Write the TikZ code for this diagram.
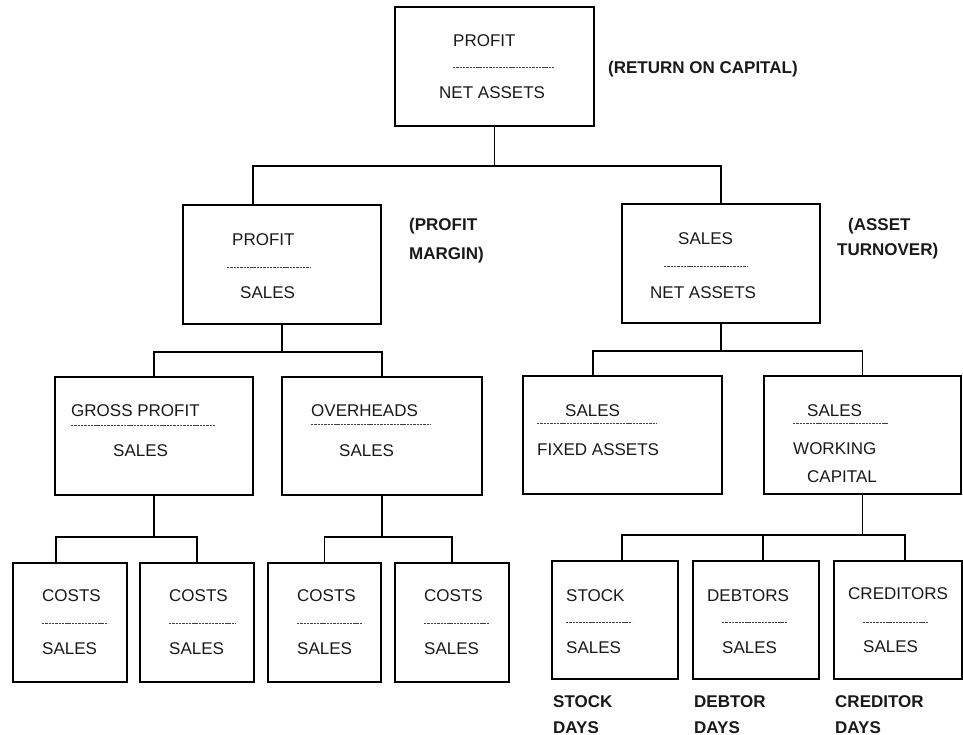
\documentclass[tikz,border=0pt]{standalone}
\usepackage{fontspec}
\setmainfont{Liberation Sans}

\begin{document}
\begin{tikzpicture}[x=1pt, y=-1pt,
        box/.style={rectangle, draw, line width=1.8pt, inner sep=0pt},
        txt/.style={inner sep=0pt, anchor=base west, text=black!90, font=\fontsize{17}{20}\selectfont},
        lbl/.style={txt, font=\fontsize{17}{20}\selectfont\bfseries},
        rule/.style={line width=1pt, black!75, dash pattern=on 2.4pt off 0.9pt},
        link/.style={line width=1.8pt}]
        \useasboundingbox (0,0) rectangle (963,735);

        % Boxes
        \node at (494.5,66.5) [box, minimum width=199pt, minimum height=119pt] (roc) {};
        \node at (282,264.5) [box, minimum width=198pt, minimum height=119pt] (pm) {};
        \node at (721,263.5) [box, minimum width=198pt, minimum height=119pt] (at) {};
        \node at (154,436) [box, minimum width=198pt, minimum height=118pt] (gp) {};
        \node at (382,436) [box, minimum width=200pt, minimum height=118pt] (oh) {};
        \node at (622.5,435) [box, minimum width=199pt, minimum height=118pt] (fa) {};
        \node at (862.5,435) [box, minimum width=197pt, minimum height=118pt] (wc) {};
        \node at (70,622.5) [box, minimum width=114pt, minimum height=119pt] (c1) {};
        \node at (197,622.5) [box, minimum width=114pt, minimum height=119pt] (c2) {};
        \node at (324.5,622.5) [box, minimum width=113pt, minimum height=119pt] (c3) {};
        \node at (452,622.5) [box, minimum width=114pt, minimum height=119pt] (c4) {};
        \node at (615,620) [box, minimum width=126pt, minimum height=118pt] (stock) {};
        \node at (756,620) [box, minimum width=126pt, minimum height=118pt] (debt) {};
        \node at (898,620) [box, minimum width=128pt, minimum height=118pt] (cred) {};

        % Ratios
        \node at (453,47) [txt] (rocn) {PROFIT};
        \draw[rule] (453,68) -- (554,68);
        \node at (439,99) [txt] (rocd) {NET ASSETS};

        \node at (232,246) [txt] (pmn) {PROFIT};
        \draw[rule] (227,267) -- (310,267);
        \node at (240,298) [txt] (pmd) {SALES};

        \node at (678,244) [txt] (atn) {SALES};
        \draw[rule] (664,266) -- (748,266);
        \node at (650,298) [txt] (atd) {NET ASSETS};

        \node at (71,416) [txt] (gpn) {GROSS PROFIT};
        \draw[rule] (71,425) -- (215,425);
        \node at (113,456) [txt] (gpd) {SALES};

        \node at (311,416) [txt] (ohn) {OVERHEADS};
        \draw[rule] (311,424) -- (431,424);
        \node at (339,456) [txt] (ohd) {SALES};

        \node at (565,416) [txt] (fan) {SALES};
        \draw[rule] (537,423) -- (657,423);
        \node at (537,455) [txt] (fad) {FIXED ASSETS};

        \node at (807,416) [txt] (wcn) {SALES};
        \draw[rule] (793,423) -- (888,423);
        \node at (793,454) [txt] (wcd) {WORKING};
        \node at (807,482) [txt] (wcd2) {CAPITAL};

        \node at (42,601) [txt] (c1n) {COSTS};
        \draw[rule] (42,623) -- (108,623);
        \node at (42,654) [txt] (c1d) {SALES};

        \node at (169,601) [txt] (c2n) {COSTS};
        \draw[rule] (169,623) -- (236,623);
        \node at (169,654) [txt] (c2d) {SALES};

        \node at (297,601) [txt] (c3n) {COSTS};
        \draw[rule] (297,623) -- (362,623);
        \node at (297,654) [txt] (c3d) {SALES};

        \node at (424,601) [txt] (c4n) {COSTS};
        \draw[rule] (424,623) -- (490,623);
        \node at (424,654) [txt] (c4d) {SALES};

        \node at (566,601) [txt] (stockn) {STOCK};
        \draw[rule] (566,622) -- (632,622);
        \node at (566,653) [txt] (stockd) {SALES};

        \node at (707,601) [txt] (debtn) {DEBTORS};
        \draw[rule] (722,622) -- (787,622);
        \node at (722,653) [txt] (debtd) {SALES};

        \node at (848,599) [txt] (credn) {CREDITORS};
        \draw[rule] (863,622) -- (928,622);
        \node at (863,652) [txt] (credd) {SALES};

        % Labels
        \node at (608,74) [lbl] (roclbl) {(RETURN ON CAPITAL)};
        \node at (409,231) [lbl] (pmlbl) {(PROFIT};
        \node at (409,259) [lbl] (pmlbl2) {MARGIN)};
        \node at (848,231) [lbl] (atlbl) {(ASSET};
        \node at (837,255) [lbl] (atlbl2) {TURNOVER)};
        \node at (553,707) [lbl] (stocklbl) {STOCK};
        \node at (553,733) [lbl] (stocklbl2) {DAYS};
        \node at (694,707) [lbl] (debtlbl) {DEBTOR};
        \node at (694,733) [lbl] (debtlbl2) {DAYS};
        \node at (835,707) [lbl] (credlbl) {CREDITOR};
        \node at (835,733) [lbl] (credlbl2) {DAYS};

        % Lines
        \draw[link] (roc.south) -- ++(0,39) -| ([xshift=-29pt]pm.north);
        \draw[link] (roc.south) -- ++(0,39) -| (at.north);

        \draw[link] (pm.south) -- ++(0,27) -| (gp.north);
        \draw[link] (pm.south) -- ++(0,27) -| (oh.north);
        \draw[link] (at.south) -- ++(0,27) -| ([xshift=-29.5pt]fa.north);
        \draw[link] (at.south) -- ++(0,27) -| (wc.north);

        \draw[link] (gp.south) -- ++(0,41) -| ([xshift=-14pt]c1.north);
        \draw[link] (gp.south) -- ++(0,41) -| (c2.north);
        \draw[link] (oh.south) -- ++(0,41) -| (c3.north);
        \draw[link] (oh.south) -- ++(0,41) -| (c4.north);

        \draw[link] (wc.south) -- ++(0,40) -| ([xshift=7pt]stock.north);
        \draw[link] (wc.south) -- ++(0,40) -| ([xshift=7pt]debt.north);
        \draw[link] (wc.south) -- ++(0,40) -| ([xshift=7pt]cred.north);

    \end{tikzpicture}
\end{document}
